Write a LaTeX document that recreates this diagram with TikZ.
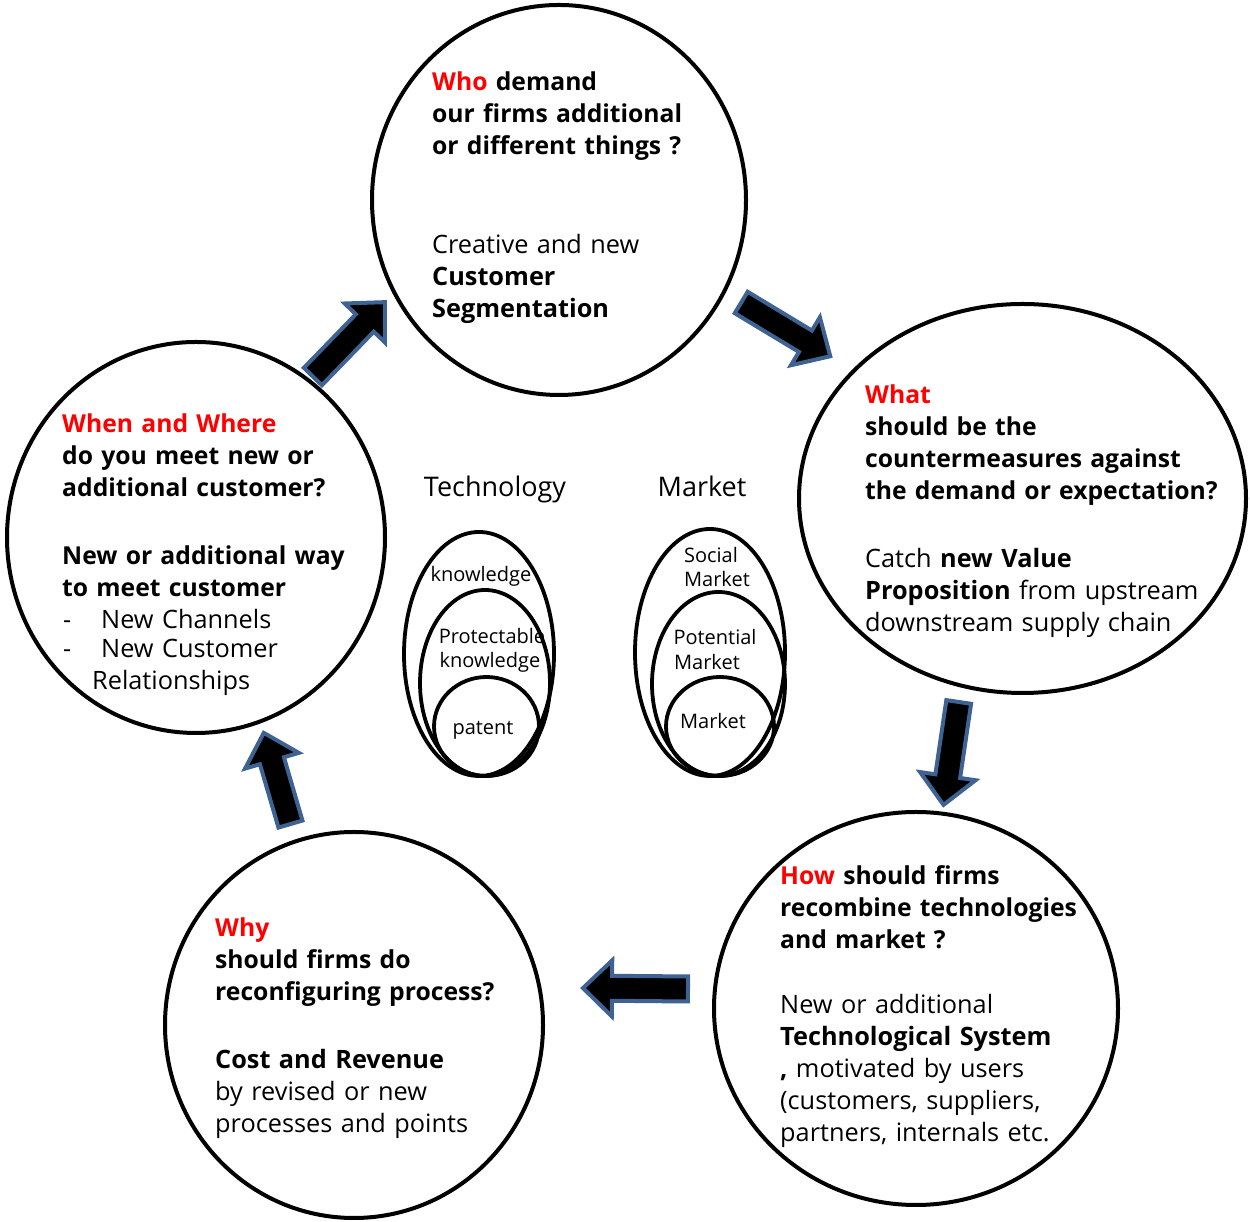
\documentclass[tikz,border=0pt]{standalone}
\usepackage{fontspec}
\setmainfont{Open Sans}
\usetikzlibrary{shapes.geometric}
\definecolor{arrowblue}{RGB}{62,98,145}
\definecolor{qred}{RGB}{255,0,0}
\newcommand\blockarr[4]{%
\begin{scope}[shift={(#1,#2)},rotate=#3]
\draw[blockarrow] (2,-12.5) -- ({#4-32},-12.5) -- ({#4-32},-28) -- ({#4-3},0) -- ({#4-32},28) -- ({#4-32},12.5) -- (2,12.5) -- cycle;
\end{scope}}
\tikzset{
  bigcircle/.style={ellipse, draw=black, line width=4pt, inner sep=0pt},
  setellipse/.style={ellipse, draw=black, line width=3.8pt, inner sep=0pt},
  blockarrow/.style={fill=black, draw=arrowblue, line width=4pt, line join=miter},
  txt/.style={anchor=base west, inner sep=0pt, text width=460pt, align=left,
     font=\fontsize{25.3}{32}\selectfont},
  qtxt/.style={txt, font=\fontsize{24.7}{32}\selectfont\bfseries},
  head/.style={anchor=base, inner sep=0pt, font=\fontsize{27}{32}\selectfont},
  small/.style={anchor=base, inner sep=0pt, font=\fontsize{20}{24}\selectfont},
}
\begin{document}
\begin{tikzpicture}[x=1pt,y=1pt]
\useasboundingbox (0,0) rectangle (1250,1222);
\fill[white] (0,0) rectangle (1250,1222);
% big circles
\node[bigcircle, minimum width=374pt, minimum height=390pt] (ctop) at (559,1022) {};
\node[bigcircle, minimum width=447pt, minimum height=389pt] (cright) at (1022.5,723.5) {};
\node[bigcircle, minimum width=404pt, minimum height=393pt] (cbr) at (916,213.5) {};
\node[bigcircle, minimum width=378pt, minimum height=386pt] (cbl) at (354,197) {};
\node[bigcircle, minimum width=378pt, minimum height=391pt] (cleft) at (196,684.5) {};
% block arrows
\blockarr{739.5}{920.5}{-31.1}{109}
\blockarr{311.5}{844}{45.9}{108.6}
\blockarr{959}{522}{-98.4}{109}
\blockarr{690}{233}{179.5}{110}
\blockarr{291}{396}{106.3}{100}
% top circle text
\node[qtxt] (tq) at (432,1131) {{\color{qred}Who} demand\\our firms additional\\or different things ?};
\node[txt] (ta) at (432,968) {Creative and new\\\textbf{Customer}\\\textbf{Segmentation}};
% right circle text
\node[qtxt] (rq) at (865,818) {{\color{qred}What}\\should be the\\countermeasures against\\the demand or expectation?};
\node[txt] (ra) at (865,654) {Catch \textbf{new Value}\\\textbf{Proposition} from upstream\\downstream supply chain};
% bottom right text
\node[qtxt] (brq) at (780,337) {{\color{qred}How} should firms\\recombine technologies\\and market ?};
\node[txt] (bra) at (780,208) {New or additional\\\textbf{Technological System}\\\textbf{,} motivated by users\\(customers, suppliers,\\partners, internals etc.};
% bottom left text
\node[qtxt] (blq) at (215,285) {{\color{qred}Why}\\should firms do\\reconfiguring process?};
\node[txt] (bla) at (215,153) {\textbf{Cost and Revenue}\\by revised or new\\processes and points};
% left circle text
\node[qtxt] (lq) at (62,789) {{\color{qred}When and Where}\\do you meet new or\\additional customer?};
\node[qtxt] (la) at (62,657) {New or additional way\\to meet customer};
\node[txt, text width=200pt] (ld1) at (63,593) {-};
\node[txt, text width=200pt] (ll1) at (101,593) {New Channels};
\node[txt, text width=200pt] (ld2) at (63,564) {-};
\node[txt, text width=200pt] (ll2) at (101,564) {New Customer};
\node[txt, text width=200pt] (ll3) at (92,532) {Relationships};
% centre headings
\node[head] (htech) at (495,725) {Technology};
\node[head] (hmark) at (702,725) {Market};
% technology ellipses
\node[setellipse, minimum width=150pt, minimum height=244pt] (e1) at (479,568) {};
\node[setellipse, minimum width=130pt, minimum height=186pt] (e2) at (485,539) {};
\node[setellipse, minimum width=105pt, minimum height=99pt] (e3) at (486.5,495.5) {};
\node[small] (k1) at (481,640) {knowledge};
\node[small] (k2) at (492,578) {Protectable};
\node[small] (k3) at (490,554) {knowledge};
\node[small] (k4) at (483,487) {patent};
% market ellipses
\node[setellipse, minimum width=150pt, minimum height=247pt] (m1) at (710,569.5) {};
\node[setellipse, minimum width=133pt, minimum height=184pt] (m2) at (718.5,538) {};
\node[setellipse, minimum width=108pt, minimum height=99pt] (m3) at (720,495.5) {};
\node[small] (s1) at (711,659) {Social};
\node[small] (s2) at (717,635) {Market};
\node[small] (s3) at (715,577) {Potential};
\node[small] (s4) at (707,552) {Market};
\node[small] (s5) at (713,493) {Market};
\end{tikzpicture}
\end{document}
